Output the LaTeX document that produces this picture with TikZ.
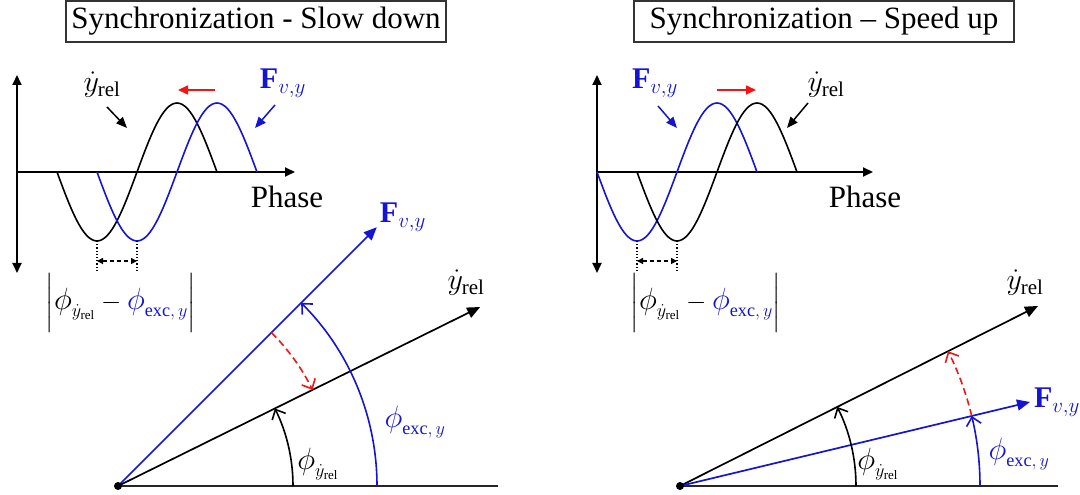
\RequirePackage{fix-cm}
\documentclass[tikz,border=0pt]{standalone}
\usepackage{amsmath}
\usepackage{graphicx}
\usepackage{fontspec}
\setmainfont{Liberation Serif}
\usetikzlibrary{arrows.meta}
\definecolor{myblue}{RGB}{20,20,210}
\definecolor{myred}{RGB}{245,20,20}
\newcommand{\bigfs}{\fontsize{31}{36}\selectfont}
\newcommand{\lblfs}{\fontsize{30}{34}\selectfont}
\newcommand{\phifs}{\fontsize{26}{30}\selectfont}
\newcommand{\bphi}{\mathord{\scalebox{1.18}{$\phi$}}}
\begin{document}
\begin{tikzpicture}[x=1pt,y=1pt,
  ln/.style={line width=1.6pt},
  axis/.style={line width=1.8pt},
  vec/.style={line width=1.7pt,-{Triangle[length=13pt,width=11pt]}},
  axtip/.style={-{Triangle[length=10pt,width=9pt]}},
  ptr/.style={line width=1.5pt,-{Triangle[length=11pt,width=9pt]}},
  arcarrow/.style={line width=1.6pt,-{Straight Barb[length=8pt,width=15pt]}},
  titlebox/.style={draw=black!80,line width=1.2pt,minimum width=380pt,minimum height=41pt,inner sep=0pt,font=\bigfs},
  lbl/.style={inner sep=0pt,font=\lblfs},
  philbl/.style={inner sep=0pt,font=\phifs},
  dimarrow/.style={line width=1.3pt,dashed,dash pattern=on 4pt off 3pt,{Triangle[length=6pt,width=6pt]}-{Triangle[length=6pt,width=6pt]}},
  guide/.style={line width=1.2pt,dotted}]
\useasboundingbox (0,0) rectangle (1080,495);

% ================= LEFT PANEL =================
\node[titlebox] (t1) at (256,473.5) {Synchronization - Slow down};

% wave axes
\coordinate (v1b) at (17,222);
\coordinate (v1t) at (17,420);
\coordinate (h1a) at (17,323);
\coordinate (h1b) at (295,323);
\draw[axis,{Triangle[length=10pt,width=9pt]}-{Triangle[length=10pt,width=9pt]}] (v1b) -- (v1t);
\draw[axis,axtip] (h1a) -- (h1b);
% waves
\draw[ln] plot[smooth,samples=61,domain=57:217] (\x,{323-69*sin(2.25*(\x-57))});
\draw[ln,myblue] plot[smooth,samples=61,domain=97:257] (\x,{323-69*sin(2.25*(\x-97))});
% red shift arrow
\coordinate (r1a) at (215,405);
\coordinate (r1b) at (178,405);
\draw[line width=1.6pt,myred,-{Triangle[length=10pt,width=9pt]}] (r1a) -- (r1b);
% labels in wave
\node[lbl] (yl1) at (102,410) {$\dot{y}_{\text{rel}}$};
\coordinate (ya1) at (107,388);
\coordinate (yb1) at (127,367);
\draw[ptr] (ya1) -- (yb1);
\node[lbl,myblue] (fl1) at (283,412) {$\text{\textbf{F}}_{v,y}$};
\coordinate (fa1) at (275,390);
\coordinate (fb1) at (255,367);
\draw[ptr,myblue] (fa1) -- (fb1);
\node[inner sep=0pt,font=\bigfs] (ph1) at (287,298) {Phase};
% phase difference
\coordinate (d1a) at (97,254);
\coordinate (d1b) at (97,224);
\coordinate (d1c) at (137,254);
\coordinate (d1d) at (137,224);
\draw[guide] (d1a) -- (d1b);
\draw[guide] (d1c) -- (d1d);
\coordinate (m1a) at (97,234);
\coordinate (m1b) at (137,234);
\draw[dimarrow] (m1a) -- (m1b);
\node[philbl] (eq1) at (121,192) {$\bigg|\bphi_{\dot{y}_{\text{rel}}}-{\color{myblue}\bphi_{\text{exc},\,y}}\bigg|$};

% vectors
\coordinate (o1) at (118,9);
\coordinate (e1) at (498,9);
\coordinate (fv1) at (376.8,267.8);
\coordinate (yv1) at (480.2,188);
\draw[line width=1.5pt,black!85] (o1) -- (e1);
\draw[vec,myblue] (o1) -- (fv1);
\draw[vec] (o1) -- (yv1);
\fill (o1) circle (4pt);
\draw[arcarrow] (o1) ++(0:175) arc[start angle=0,end angle=26.3,radius=175];
\draw[arcarrow,myblue] (o1) ++(0:259) arc[start angle=0,end angle=45,radius=259];
\draw[arcarrow,myred,dashed,dash pattern=on 7pt off 4pt] (o1) ++(45:217) arc[start angle=45,end angle=26.3,radius=217];
\node[lbl,myblue] (fvl1) at (403,278) {$\text{\textbf{F}}_{v,y}$};
\node[lbl] (yvl1) at (466,212) {$\dot{y}_{\text{rel}}$};
\node[philbl] (py1) at (318,31) {$\bphi_{\dot{y}_{\text{rel}}}$};
\node[philbl,myblue] (pe1) at (415,73) {$\bphi_{\text{exc},\,y}$};

% ================= RIGHT PANEL =================
\node[titlebox] (t2) at (824,473.5) {Synchronization – Speed up};

\coordinate (v2b) at (597,222);
\coordinate (v2t) at (597,420);
\coordinate (h2a) at (597,323);
\coordinate (h2b) at (873,323);
\draw[axis,{Triangle[length=10pt,width=9pt]}-{Triangle[length=10pt,width=9pt]}] (v2b) -- (v2t);
\draw[axis,axtip] (h2a) -- (h2b);
\draw[ln,myblue] plot[smooth,samples=61,domain=597:757] (\x,{323-69*sin(2.25*(\x-597))});
\draw[ln] plot[smooth,samples=61,domain=637:797] (\x,{323-69*sin(2.25*(\x-637))});
\coordinate (r2a) at (717,405);
\coordinate (r2b) at (756,405);
\draw[line width=1.6pt,myred,-{Triangle[length=10pt,width=9pt]}] (r2a) -- (r2b);
\node[lbl,myblue] (fl2) at (655,412) {$\text{\textbf{F}}_{v,y}$};
\coordinate (fa2) at (658,389);
\coordinate (fb2) at (677,367);
\draw[ptr,myblue] (fa2) -- (fb2);
\node[lbl] (yl2) at (826,410) {$\dot{y}_{\text{rel}}$};
\coordinate (ya2) at (808,392);
\coordinate (yb2) at (787,367);
\draw[ptr] (ya2) -- (yb2);
\node[inner sep=0pt,font=\bigfs] (ph2) at (865,298) {Phase};
\coordinate (d2a) at (637,254);
\coordinate (d2b) at (637,224);
\coordinate (d2c) at (677,254);
\coordinate (d2d) at (677,224);
\draw[guide] (d2a) -- (d2b);
\draw[guide] (d2c) -- (d2d);
\coordinate (m2a) at (637,234);
\coordinate (m2b) at (677,234);
\draw[dimarrow] (m2a) -- (m2b);
\node[philbl] (eq2) at (706,192) {$\bigg|\bphi_{\dot{y}_{\text{rel}}}-{\color{myblue}\bphi_{\text{exc},\,y}}\bigg|$};

\coordinate (o2) at (680,9);
\coordinate (e2) at (1058,9);
\coordinate (yv2) at (1038,189);
\coordinate (fv2) at (1030,93);
\draw[line width=1.5pt,black!85] (o2) -- (e2);
\draw[vec] (o2) -- (yv2);
\draw[vec,myblue] (o2) -- (fv2);
\fill (o2) circle (4pt);
\draw[arcarrow] (o2) ++(0:176) arc[start angle=0,end angle=26.7,radius=176];
\draw[arcarrow,myblue] (o2) ++(0:300) arc[start angle=0,end angle=13.5,radius=300];
\draw[arcarrow,myred,dashed,dash pattern=on 7pt off 4pt] (o2) ++(13.5:300) arc[start angle=13.5,end angle=26.7,radius=300];
\node[lbl] (yvl2) at (1025,212) {$\dot{y}_{\text{rel}}$};
\node[lbl,myblue] (fvl2) at (1057,93) {$\text{\textbf{F}}_{v,y}$};
\node[philbl] (py2) at (878,31) {$\bphi_{\dot{y}_{\text{rel}}}$};
\node[philbl,myblue] (pe2) at (1019,41) {$\bphi_{\text{exc},\,y}$};
\end{tikzpicture}
\end{document}
